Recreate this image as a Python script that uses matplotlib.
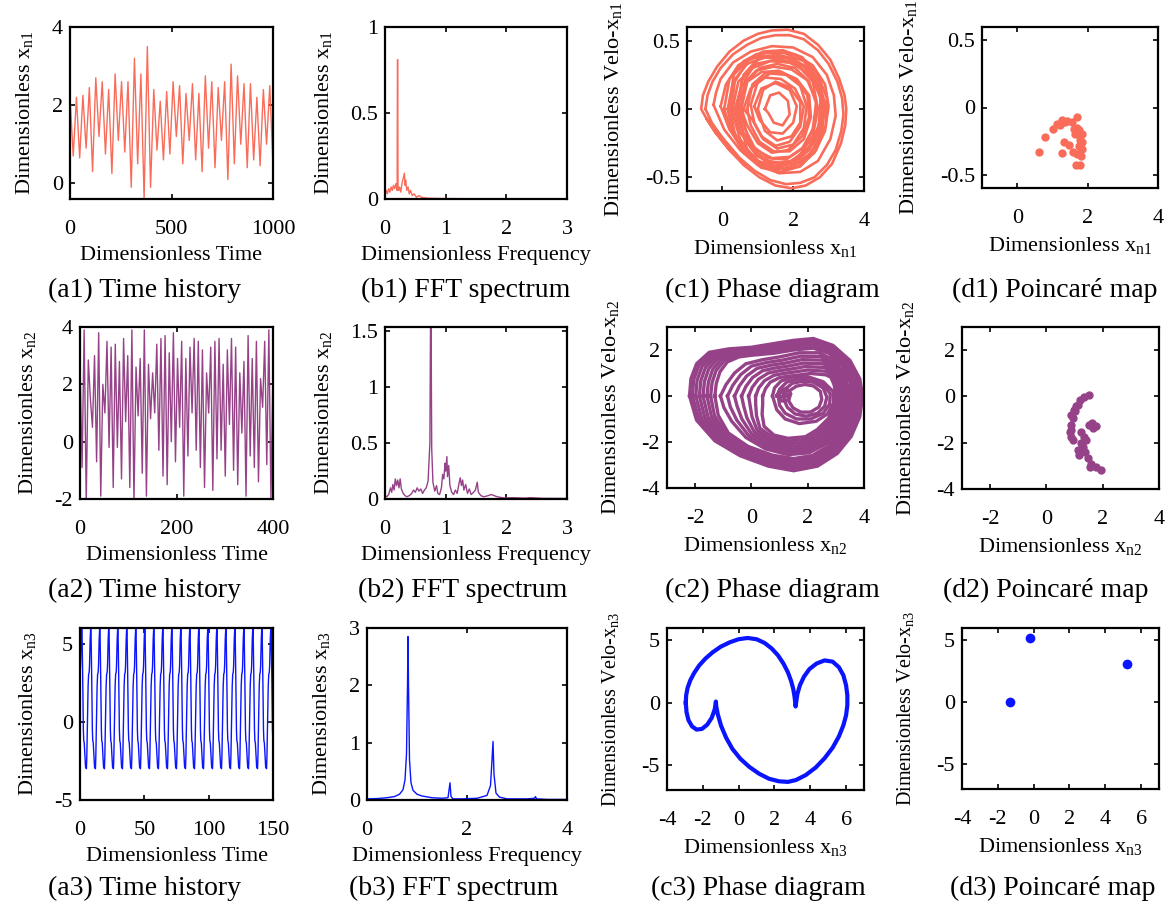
import numpy as np
import matplotlib
matplotlib.use("Agg")
import matplotlib.pyplot as plt
from matplotlib.ticker import FormatStrFormatter

plt.rcParams['font.family'] = 'Liberation Serif'
plt.rcParams['mathtext.fontset'] = 'custom'
plt.rcParams['mathtext.rm'] = 'Liberation Serif'
plt.rcParams['mathtext.it'] = 'Liberation Serif:italic'
plt.rcParams['axes.unicode_minus'] = False

RED = '#F96C5A'
PURPLE = '#964288'
BLUE = '#0A14FF'

# ---- row 1 : x_n1 (chaotic) ----
a1_x = [2.2, 0.7, 2.2, 0.65, 2.25, 0.9, 2.45, 0.3, 2.7, 1.2, 2.6, 0.75, 2.4, 0.25, 2.8, 1.1,
        2.6, 0.8, 2.6, -0.1, 3.2, 0.5, 2.8, -0.4, 3.5, -0.1, 2.4, 0.85, 2.1, 0.6, 2.35, 0.75,
        2.6, 1.2, 2.5, 0.5, 2.3, 1.1, 2.55, 0.6, 2.3, 0.3, 2.75, 0.9, 2.6, 0.4, 2.45, 1.1,
        2.6, 0.1, 3.05, 0.5, 2.75, 1.0, 2.55, 0.4, 2.55, 0.6, 2.2, 0.45, 2.4, 1.0, 2.5, 0.45]

b1_freq = [0.0, 0.02, 0.04, 0.06, 0.08, 0.10, 0.12, 0.14, 0.16, 0.18, 0.20, 0.205, 0.21, 0.215,
           0.225, 0.24, 0.26, 0.28, 0.30, 0.32, 0.33, 0.34, 0.36, 0.38, 0.40, 0.42, 0.45, 0.48,
           0.52, 0.56, 0.60, 0.70, 0.90, 1.2, 2.0, 3.0]
b1_amp = [0.02, 0.05, 0.03, 0.06, 0.04, 0.07, 0.05, 0.08, 0.06, 0.09, 0.05, 0.81, 0.81, 0.06,
          0.05, 0.07, 0.04, 0.09, 0.12, 0.15, 0.08, 0.11, 0.05, 0.07, 0.03, 0.05, 0.02, 0.03,
          0.01, 0.02, 0.01, 0.005, 0.003, 0.002, 0.001, 0.001]

c1_loops = [
    [(0.65, -0.41), (0.2, -0.3), (-0.2, -0.17), (-0.45, -0.07), (-0.6, 0.0), (-0.55, 0.1), (-0.4, 0.2),
     (-0.15, 0.31), (0.2, 0.42), (0.6, 0.5), (1.0, 0.55), (1.4, 0.575), (1.85, 0.58), (2.3, 0.55),
     (2.7, 0.47), (3.05, 0.36), (3.3, 0.22), (3.45, 0.1), (3.5, 0.0), (3.47, -0.12), (3.35, -0.25),
     (3.1, -0.4), (2.75, -0.5), (2.35, -0.56), (1.95, -0.58), (1.5, -0.56), (1.05, -0.5), (0.6, -0.41),
     (0.2, -0.3), (-0.2, -0.17), (-0.45, -0.07)],
    [(-0.48, 0.0), (-0.42, 0.1), (-0.28, 0.2), (-0.05, 0.3), (0.3, 0.4), (0.7, 0.47), (1.1, 0.52),
     (1.5, 0.54), (1.9, 0.54), (2.3, 0.51), (2.7, 0.43), (3.0, 0.33), (3.25, 0.2), (3.38, 0.08),
     (3.42, -0.04), (3.36, -0.16), (3.2, -0.3), (2.95, -0.41), (2.6, -0.5), (2.2, -0.54), (1.8, -0.55),
     (1.35, -0.52), (0.9, -0.45), (0.45, -0.35), (0.05, -0.23), (-0.3, -0.1)],
    [(-0.25, 0.03), (-0.18, 0.12), (-0.05, 0.22), (0.3, 0.34), (0.8, 0.42), (1.4, 0.46), (2.0, 0.45),
     (2.55, 0.38), (2.95, 0.25), (3.15, 0.1), (3.2, -0.05), (3.05, -0.22), (2.7, -0.38), (2.2, -0.46),
     (1.6, -0.47), (1.0, -0.41), (0.5, -0.3), (0.05, -0.15)],
    [(-0.05, 0.02), (0.1, 0.18), (0.45, 0.32), (0.95, 0.4), (1.5, 0.42), (2.05, 0.4), (2.55, 0.32),
     (2.9, 0.18), (3.0, 0.02), (2.9, -0.16), (2.6, -0.32), (2.15, -0.42), (1.6, -0.44), (1.05, -0.4),
     (0.6, -0.3), (0.2, -0.15)],
    [(0.05, 0.0), (0.2, 0.22), (0.6, 0.35), (1.15, 0.42), (1.7, 0.43), (2.25, 0.38), (2.7, 0.25),
     (2.95, 0.08), (2.92, -0.12), (2.65, -0.3), (2.2, -0.42), (1.65, -0.46), (1.1, -0.43), (0.6, -0.32),
     (0.25, -0.16)],
    [(0.15, 0.0), (0.3, 0.2), (0.7, 0.33), (1.2, 0.38), (1.75, 0.38), (2.3, 0.32), (2.7, 0.2),
     (2.85, 0.03), (2.75, -0.15), (2.45, -0.3), (2.0, -0.4), (1.5, -0.42), (1.0, -0.38), (0.55, -0.27),
     (0.25, -0.13)],
    [(0.2, 0.02), (0.32, 0.25), (0.75, 0.37), (1.3, 0.39), (1.85, 0.37), (2.35, 0.3), (2.72, 0.15),
     (2.85, -0.05), (2.7, -0.25), (2.3, -0.38), (1.75, -0.44), (1.2, -0.42), (0.7, -0.33), (0.35, -0.18)],
    [(0.25, 0.0), (0.35, 0.2), (0.7, 0.35), (1.2, 0.41), (1.75, 0.41), (2.3, 0.35), (2.7, 0.22),
     (2.9, 0.04), (2.82, -0.16), (2.5, -0.32), (2.0, -0.42), (1.45, -0.44), (0.95, -0.38), (0.5, -0.22)],
    [(0.3, 0.02), (0.45, 0.2), (0.85, 0.3), (1.35, 0.35), (1.9, 0.34), (2.4, 0.27), (2.75, 0.13),
     (2.8, -0.03), (2.65, -0.2), (2.3, -0.33), (1.8, -0.4), (1.3, -0.38), (0.85, -0.3), (0.5, -0.17)],
    [(0.4, 0.02), (0.6, 0.25), (1.05, 0.38), (1.55, 0.37), (2.1, 0.33), (2.55, 0.2), (2.7, 0.0),
     (2.55, -0.2), (2.15, -0.35), (1.6, -0.43), (1.1, -0.4), (0.7, -0.3)],
    [(0.45, 0.0), (0.55, 0.22), (0.95, 0.33), (1.5, 0.36), (2.05, 0.33), (2.5, 0.24), (2.78, 0.08),
     (2.72, -0.12), (2.45, -0.28), (1.95, -0.38), (1.4, -0.4), (0.95, -0.34), (0.6, -0.2)],
    [(0.5, -0.02), (0.65, 0.22), (1.0, 0.36), (1.5, 0.40), (2.0, 0.37), (2.5, 0.28), (2.8, 0.12),
     (2.85, -0.06), (2.6, -0.24), (2.2, -0.36), (1.7, -0.41), (1.2, -0.38), (0.8, -0.28)],
    [(0.35, 0.0), (0.55, 0.17), (0.95, 0.28), (1.45, 0.31), (1.95, 0.29), (2.4, 0.21), (2.65, 0.06),
     (2.6, -0.12), (2.35, -0.27), (1.9, -0.35), (1.4, -0.36), (0.95, -0.3), (0.6, -0.18)],
    [(0.55, 0.02), (0.7, 0.2), (1.05, 0.3), (1.55, 0.33), (2.05, 0.3), (2.45, 0.2), (2.65, 0.04),
     (2.55, -0.15), (2.25, -0.29), (1.8, -0.37), (1.3, -0.36), (0.9, -0.28), (0.65, -0.15)],
    [(0.45, 0.05), (0.7, 0.2), (1.1, 0.27), (1.6, 0.28), (2.05, 0.22), (2.4, 0.1), (2.45, -0.06),
     (2.25, -0.2), (1.85, -0.3), (1.4, -0.32), (1.0, -0.25), (0.7, -0.12)],
    [(0.7, 0.0), (0.85, 0.18), (1.2, 0.26), (1.65, 0.27), (2.1, 0.22), (2.45, 0.1), (2.5, -0.06),
     (2.3, -0.22), (1.9, -0.31), (1.45, -0.31), (1.05, -0.24), (0.8, -0.12)],
    [(0.6, 0.0), (0.8, 0.15), (1.2, 0.23), (1.65, 0.22), (2.05, 0.15), (2.3, 0.02), (2.2, -0.13),
     (1.9, -0.24), (1.5, -0.27), (1.1, -0.2), (0.85, -0.08)],
    [(0.8, 0.03), (1.0, 0.2), (1.35, 0.26), (1.8, 0.25), (2.2, 0.17), (2.38, 0.02), (2.3, -0.14),
     (2.0, -0.26), (1.55, -0.29), (1.15, -0.22), (0.9, -0.1)],
    [(0.9, 0.02), (1.1, 0.15), (1.5, 0.19), (1.9, 0.14), (2.1, 0.02), (2.0, -0.1), (1.7, -0.18),
     (1.35, -0.17), (1.05, -0.08)],
    [(1.0, 0.0), (1.15, 0.14), (1.5, 0.2), (1.9, 0.16), (2.2, 0.05), (2.2, -0.1), (1.95, -0.2),
     (1.55, -0.23), (1.2, -0.16)],
    [(1.2, 0.0), (1.35, 0.1), (1.6, 0.12), (1.85, 0.06), (1.9, -0.04), (1.7, -0.12), (1.45, -0.1),
     (1.3, -0.03)],
]

d1_x = [0.61, 0.80, 1.02, 1.13, 1.27, 1.42, 1.56, 1.70, 1.70, 1.65, 1.84, 1.79, 1.85, 1.75,
        1.84, 1.82, 1.70, 1.58, 1.46, 1.32, 1.27, 1.68, 1.77, 1.37, 1.23, 1.60, 1.75]
d1_v = [-0.33, -0.22, -0.16, -0.12, -0.09, -0.10, -0.11, -0.07, -0.15, -0.20, -0.20, -0.24,
        -0.26, -0.29, -0.31, -0.36, -0.35, -0.33, -0.28, -0.26, -0.34, -0.43, -0.43, -0.11,
        -0.13, -0.16, -0.17]

# ---- row 2 : x_n2 (chaotic) ----
a2_x = [2.7, -0.9, 3.9, -2.1, 2.85, 1.5, 0.5, 3.0, -0.7, 3.8, -1.9, 2.0, 1.0, 3.5, -0.2, 3.3,
        -1.6, 3.4, -0.2, 2.8, -1.3, 3.6, 0.7, 3.0, -1.6, 3.9, -2.1, 2.6, 0.9, 2.9, -1.1, 3.9,
        -1.9, 2.7, 0.8, 2.4, 1.0, 3.4, -0.3, 3.6, -1.2, 3.7, -1.5, 3.1, 0.0, 3.8, -0.7, 2.9,
        0.5, 3.5, -1.9, 2.9, -0.5, 3.3, 1.0, 3.6, -0.3, 3.5, -0.9, 3.2, -1.6, 2.4, 1.0, 3.3,
        -1.7, 3.5, -0.6, 3.6, -0.3, 2.7, -1.2, 3.2, 0.6, 3.6, -1.0, 3.3, -1.5, 2.4, 0.3, 2.8,
        -1.9, 3.7, -0.5, 2.9, -0.9, 3.5, -1.4, 2.2, 1.2, 3.5, -0.8, 3.9, -2.0, 2.6]

b2_freq = [0.00, 0.03, 0.06, 0.09, 0.11, 0.13, 0.15, 0.17, 0.19, 0.21, 0.23, 0.25, 0.27, 0.30,
           0.33, 0.36, 0.40, 0.44, 0.47, 0.50, 0.53, 0.56, 0.59, 0.62, 0.65, 0.68, 0.71, 0.74,
           0.75, 0.76, 0.77, 0.79, 0.82, 0.85, 0.87, 0.90, 0.93, 0.95, 0.97, 0.99, 1.00, 1.02,
           1.03, 1.05, 1.07, 1.10, 1.13, 1.16, 1.19, 1.22, 1.24, 1.26, 1.28, 1.30, 1.33, 1.36,
           1.39, 1.42, 1.46, 1.49, 1.52, 1.54, 1.58, 1.63, 1.70, 1.75, 1.80, 1.85, 1.95, 2.1,
           2.3, 2.4, 2.6, 3.0]
b2_amp = [0.03, 0.02, 0.04, 0.10, 0.06, 0.13, 0.08, 0.18, 0.12, 0.17, 0.10, 0.18, 0.09, 0.05,
          0.03, 0.02, 0.03, 0.05, 0.08, 0.06, 0.10, 0.07, 0.09, 0.05, 0.08, 0.10, 0.16, 0.5,
          1.56, 1.56, 0.45, 0.15, 0.07, 0.12, 0.05, 0.04, 0.10, 0.22, 0.18, 0.32, 0.25, 0.38,
          0.2, 0.30, 0.12, 0.06, 0.04, 0.08, 0.05, 0.14, 0.19, 0.12, 0.17, 0.08, 0.13, 0.05,
          0.09, 0.04, 0.06, 0.08, 0.15, 0.06, 0.03, 0.02, 0.03, 0.04, 0.03, 0.02, 0.01, 0.012,
          0.008, 0.012, 0.006, 0.005]

c2_loops = [
    # outer family (rounded left side)
    [(-2.2, 0.0), (-2.15, 0.75), (-1.95, 1.4), (-1.5, 1.9), (-0.8, 2.05), (0.0, 2.12), (0.8, 2.28),
     (1.5, 2.42), (2.2, 2.5), (2.9, 2.2), (3.5, 1.55), (3.85, 0.75), (3.95, 0.0), (3.85, -0.9),
     (3.55, -1.75), (3.05, -2.5), (2.35, -3.05), (1.5, -3.25), (0.6, -3.05), (-0.4, -2.6),
     (-1.3, -1.95), (-1.95, -1.05)],
    [(-2.1, 0.0), (-2.05, 0.72), (-1.86, 1.35), (-1.43, 1.84), (-0.76, 2.0), (0.0, 2.07), (0.8, 2.22),
     (1.5, 2.36), (2.2, 2.44), (2.88, 2.15), (3.46, 1.52), (3.8, 0.74), (3.9, 0.0), (3.8, -0.88),
     (3.5, -1.72), (3.01, -2.45), (2.33, -2.99), (1.5, -3.18), (0.62, -2.99), (-0.36, -2.55),
     (-1.24, -1.91), (-1.86, -1.02)],
    [(-1.98, 0.0), (-1.93, 0.69), (-1.75, 1.3), (-1.35, 1.78), (-0.72, 1.95), (0.0, 2.02), (0.8, 2.16),
     (1.5, 2.3), (2.2, 2.38), (2.86, 2.1), (3.42, 1.49), (3.75, 0.72), (3.84, 0.0), (3.75, -0.86),
     (3.45, -1.69), (2.97, -2.4), (2.31, -2.93), (1.5, -3.1), (0.64, -2.92), (-0.32, -2.49),
     (-1.17, -1.86), (-1.76, -0.99)],
    [(-1.85, 0.0), (-1.8, 0.66), (-1.63, 1.25), (-1.26, 1.72), (-0.67, 1.9), (0.0, 1.97), (0.8, 2.1),
     (1.5, 2.24), (2.2, 2.32), (2.84, 2.05), (3.38, 1.46), (3.7, 0.7), (3.78, 0.0), (3.7, -0.84),
     (3.4, -1.65), (2.93, -2.35), (2.28, -2.87), (1.5, -3.02), (0.66, -2.85), (-0.28, -2.43),
     (-1.1, -1.81), (-1.65, -0.96)],
    [(-1.72, 0.0), (-1.67, 0.63), (-1.51, 1.2), (-1.17, 1.66), (-0.62, 1.85), (0.0, 1.92), (0.8, 2.04),
     (1.5, 2.18), (2.2, 2.26), (2.82, 2.0), (3.34, 1.42), (3.65, 0.68), (3.72, 0.0), (3.64, -0.82),
     (3.35, -1.61), (2.89, -2.3), (2.25, -2.8), (1.5, -2.95), (0.68, -2.78), (-0.24, -2.37),
     (-1.03, -1.76), (-1.54, -0.93)],
    [(-1.58, 0.0), (-1.53, 0.6), (-1.38, 1.15), (-1.07, 1.6), (-0.56, 1.8), (0.0, 1.87), (0.8, 1.98),
     (1.5, 2.12), (2.2, 2.2), (2.8, 1.95), (3.3, 1.39), (3.6, 0.66), (3.66, 0.0), (3.58, -0.8),
     (3.3, -1.57), (2.85, -2.25), (2.22, -2.73), (1.5, -2.87), (0.7, -2.71), (-0.2, -2.31),
     (-0.96, -1.71), (-1.42, -0.9)],
    [(-1.45, 0.0), (-1.4, 0.57), (-1.26, 1.1), (-0.97, 1.54), (-0.5, 1.75), (0.0, 1.82), (0.8, 1.92),
     (1.5, 2.06), (2.2, 2.14), (2.78, 1.9), (3.26, 1.36), (3.55, 0.64), (3.6, 0.0), (3.52, -0.78),
     (3.25, -1.53), (2.81, -2.2), (2.19, -2.66), (1.5, -2.8), (0.72, -2.64), (-0.16, -2.25),
     (-0.89, -1.66), (-1.31, -0.87)],
    [(-1.3, 0.0), (-1.25, 0.54), (-1.12, 1.05), (-0.86, 1.48), (-0.44, 1.7), (0.0, 1.77), (0.8, 1.86),
     (1.5, 2.0), (2.2, 2.08), (2.76, 1.85), (3.22, 1.33), (3.5, 0.62), (3.55, 0.0), (3.46, -0.76),
     (3.2, -1.49), (2.77, -2.15), (2.16, -2.59), (1.5, -2.72), (0.74, -2.57), (-0.12, -2.19),
     (-0.82, -1.61), (-1.18, -0.84)],
    # middle family (pointed left tips)
    [(-1.1, 0.0), (-0.9, 0.5), (-0.6, 1.0), (-0.2, 1.4), (0.4, 1.58), (1.0, 1.7), (1.7, 1.88),
     (2.4, 1.88), (2.95, 1.55), (3.3, 0.95), (3.48, 0.2), (3.42, -0.6), (3.15, -1.4), (2.7, -2.05),
     (2.05, -2.47), (1.3, -2.55), (0.5, -2.3), (-0.2, -1.8), (-0.7, -1.1), (-0.98, -0.5)],
    [(-0.85, 0.0), (-0.66, 0.47), (-0.38, 0.93), (0.0, 1.3), (0.55, 1.46), (1.1, 1.56), (1.75, 1.73),
     (2.45, 1.72), (2.92, 1.42), (3.24, 0.87), (3.4, 0.16), (3.34, -0.58), (3.08, -1.33), (2.64, -1.95),
     (2.02, -2.36), (1.3, -2.43), (0.55, -2.2), (-0.1, -1.72), (-0.52, -1.05), (-0.75, -0.47)],
    [(-0.6, 0.0), (-0.43, 0.44), (-0.17, 0.87), (0.2, 1.2), (0.7, 1.34), (1.2, 1.43), (1.8, 1.58),
     (2.5, 1.56), (2.9, 1.3), (3.18, 0.8), (3.32, 0.13), (3.26, -0.56), (3.01, -1.26), (2.58, -1.86),
     (2.0, -2.25), (1.3, -2.32), (0.6, -2.1), (0.0, -1.64), (-0.34, -1.0), (-0.51, -0.44)],
    [(-0.35, 0.0), (-0.2, 0.41), (0.04, 0.8), (0.4, 1.1), (0.85, 1.22), (1.3, 1.3), (1.85, 1.43),
     (2.55, 1.4), (2.88, 1.18), (3.12, 0.72), (3.24, 0.1), (3.18, -0.53), (2.94, -1.19), (2.52, -1.76),
     (1.98, -2.13), (1.3, -2.2), (0.65, -2.0), (0.1, -1.56), (-0.16, -0.95), (-0.28, -0.41)],
    [(-0.1, 0.0), (0.03, 0.38), (0.25, 0.73), (0.6, 1.0), (1.0, 1.1), (1.4, 1.17), (1.9, 1.28),
     (2.6, 1.24), (2.86, 1.06), (3.06, 0.64), (3.16, 0.07), (3.1, -0.51), (2.87, -1.12), (2.46, -1.66),
     (1.96, -2.01), (1.3, -2.08), (0.7, -1.9), (0.2, -1.48), (0.02, -0.9), (-0.05, -0.38)],
    [(0.15, 0.0), (0.26, 0.35), (0.46, 0.66), (0.8, 0.9), (1.15, 0.98), (1.5, 1.04), (2.0, 1.13),
     (2.62, 1.08), (2.84, 0.94), (3.0, 0.56), (3.08, 0.04), (3.02, -0.48), (2.8, -1.05), (2.4, -1.56),
     (1.94, -1.89), (1.3, -1.96), (0.75, -1.8), (0.3, -1.4), (0.18, -0.85), (0.15, -0.35)],
    [(0.4, 0.0), (0.5, 0.32), (0.67, 0.6), (1.0, 0.8), (1.3, 0.86), (1.6, 0.9), (2.1, 0.98),
     (2.64, 0.92), (2.82, 0.82), (2.94, 0.48), (3.0, 0.0), (2.94, -0.46), (2.73, -0.98), (2.34, -1.46),
     (1.92, -1.77), (1.3, -1.84), (0.8, -1.7), (0.45, -1.32), (0.38, -0.8), (0.4, -0.35)],
    # inner family around the centre
    [(0.75, 0.0), (0.82, 0.35), (1.05, 0.65), (1.45, 0.82), (2.0, 0.84), (2.55, 0.62), (2.9, 0.2),
     (2.92, -0.3), (2.7, -0.78), (2.3, -1.1), (1.7, -1.2), (1.2, -1.0), (0.9, -0.6)],
    [(0.95, 0.0), (1.02, 0.32), (1.25, 0.6), (1.6, 0.73), (2.1, 0.73), (2.55, 0.5), (2.8, 0.1),
     (2.78, -0.35), (2.55, -0.75), (2.1, -1.0), (1.6, -1.0), (1.2, -0.75), (1.0, -0.4)],
    [(1.15, 0.05), (1.22, 0.32), (1.45, 0.55), (1.8, 0.64), (2.2, 0.6), (2.55, 0.35), (2.68, -0.05),
     (2.6, -0.45), (2.35, -0.75), (1.95, -0.88), (1.55, -0.78), (1.28, -0.5), (1.17, -0.2)],
    [(1.3, 0.0), (1.38, 0.25), (1.6, 0.43), (1.9, 0.5), (2.2, 0.44), (2.45, 0.2), (2.5, -0.15),
     (2.4, -0.48), (2.1, -0.7), (1.75, -0.7), (1.48, -0.52), (1.34, -0.25)],
    [(0.9, 0.0), (1.0, 0.28), (1.25, 0.32), (1.4, 0.1), (1.32, -0.18), (1.08, -0.22), (0.95, -0.05),
     (1.05, 0.18), (1.22, 0.15), (1.2, -0.05)],
]

d2_x = [1.52, 1.35, 1.20, 1.11, 1.02, 0.93, 0.87, 0.85, 0.87, 0.93, 1.23, 1.32, 1.23, 1.11,
        1.17, 1.37, 1.46, 1.58, 1.76, 1.94, 1.56, 1.62, 1.76, 1.64, 1.52, 1.40, 1.29, 0.99,
        1.05, 0.87, 0.89]
d2_v = [0.07, -0.03, -0.14, -0.36, -0.65, -0.94, -1.23, -1.52, -1.74, -1.88, -1.52, -1.74,
        -2.03, -2.32, -2.54, -2.39, -2.68, -2.90, -3.04, -3.19, -3.04, -1.13, -1.28, -1.38,
        -1.23, -1.88, -2.17, -0.58, -0.43, -0.80, -1.45]

# ---- row 3 : x_n3 (period-3) ----
a3_period = 7.0
a3_cycles = 22
a3_start = -2.0
a3_cycle_t = [0.0, 0.3, 0.8, 1.3, 1.7, 2.1, 2.4, 2.9, 3.3, 3.6, 4.1, 4.6, 4.9, 5.3, 5.7, 6.3]
a3_cycle_x = [-3.0, -2.2, 0.0, 2.3, 3.05, 3.15, 3.6, 5.3, 6.0, 5.6, 2.8, -0.5, -1.2, -1.35, -2.0, -2.9]

b3_freq = [0.0, 0.2, 0.4, 0.55, 0.65, 0.72, 0.76, 0.79, 0.81, 0.82, 0.83, 0.85, 0.88, 0.92, 1.0,
           1.1, 1.3, 1.5, 1.62, 1.66, 1.68, 1.72, 1.9, 2.2, 2.4, 2.47, 2.5, 2.52, 2.54, 2.58,
           2.65, 2.8, 3.2, 3.35, 3.37, 3.39, 3.6, 4.0]
b3_amp = [0.02, 0.025, 0.04, 0.06, 0.10, 0.18, 0.35, 0.8, 2.0, 2.85, 2.0, 0.7, 0.3, 0.17, 0.10,
          0.07, 0.04, 0.03, 0.04, 0.3, 0.06, 0.02, 0.02, 0.03, 0.08, 0.25, 0.7, 1.02, 0.45, 0.12,
          0.05, 0.02, 0.02, 0.03, 0.06, 0.02, 0.01, 0.01]

c3_x = [-2.95, -2.93, -2.85, -2.7, -2.48, -2.2, -1.85, -1.45, -1.0, -0.5, 0.0, 0.5, 1.0, 1.45, 1.85,
        2.2, 2.5, 2.75, 2.93, 3.05, 3.12, 3.16, 3.18, 3.22, 3.28, 3.42, 3.65, 3.95, 4.35, 4.8, 5.25,
        5.6, 5.85, 6.0, 6.07, 6.07, 6.0, 5.85, 5.6, 5.25, 4.8, 4.3, 3.75, 3.2, 2.75, 2.25, 1.7, 1.15,
        0.6, 0.1, -0.35, -0.7, -0.98, -1.16, -1.25, -1.27, -1.33, -1.5, -1.75, -2.05, -2.35, -2.6,
        -2.8, -2.91, -2.95]
c3_v = [0.0, 0.6, 1.2, 1.8, 2.4, 3.0, 3.55, 4.05, 4.5, 4.85, 5.1, 5.2, 5.1, 4.8, 4.35,
        3.8, 3.15, 2.45, 1.75, 1.1, 0.5, 0.0, -0.3, 0.1, 0.7, 1.4, 2.1, 2.7, 3.15, 3.4, 3.3,
        2.85, 2.2, 1.4, 0.6, -0.2, -1.0, -1.8, -2.7, -3.6, -4.45, -5.2, -5.8, -6.2, -6.35, -6.3, -6.1, -5.7,
        -5.15, -4.5, -3.7, -2.8, -1.85, -0.95, -0.3, 0.1, -0.5, -1.2, -1.75, -2.1, -2.15, -1.9,
        -1.4, -0.75, 0.0]

d3_x = [-1.3, -0.2, 5.2]
d3_v = [0.05, 5.2, 3.1]

FIG_W, FIG_H = 1175, 906
fig = plt.figure(figsize=(FIG_W / 100, FIG_H / 100), dpi=100)


def make_axes(left, right, top, bottom):
    return fig.add_axes([left / FIG_W, 1 - bottom / FIG_H, (right - left) / FIG_W, (bottom - top) / FIG_H])


def style(ax, xlim, ylim, xticks, yticks, xlabel, ylabel, ylsize=16, ylpad=12):
    ax.set_xlim(*xlim)
    ax.set_ylim(*ylim)
    ax.set_xticks(xticks)
    ax.set_yticks(yticks)
    ax.xaxis.set_major_formatter(FormatStrFormatter('%g'))
    ax.yaxis.set_major_formatter(FormatStrFormatter('%g'))
    ax.tick_params(direction='in', top=True, right=True, length=3.5, width=1.2, labelsize=16)
    ax.tick_params(axis='x', pad=15)
    ax.tick_params(axis='y', pad=5)
    for s in ax.spines.values():
        s.set_linewidth(1.6)
    ax.set_xlabel(xlabel, fontsize=16, labelpad=5)
    ax.set_ylabel(ylabel, fontsize=ylsize, labelpad=ylpad)


def plot_loops(ax, loops, color, lw):
    for loop in loops:
        pts = np.array(loop + [loop[0]])
        ax.plot(pts[:, 0], pts[:, 1], color=color, lw=lw, solid_joinstyle='round')


def caption(x, y, text):
    fig.text(x / FIG_W, 1 - y / FIG_H, text, fontsize=20, ha='center', va='center')


time_lab = 'Dimensionless Time'
freq_lab = 'Dimensionless Frequency'

# row 1
ax = make_axes(70, 273, 27, 199)
ax.plot(np.linspace(0, 1000, len(a1_x)), a1_x, color=RED, lw=1.0)
style(ax, (0, 1000), (-0.4, 4), [0, 500, 1000], [0, 2, 4], time_lab, r'Dimensionless x$_{\rm n1}$')

ax = make_axes(385, 567, 27, 199)
ax.plot(b1_freq, b1_amp, color=RED, lw=1.0)
style(ax, (0, 3), (0, 1), [0, 1, 2, 3], [0, 0.5, 1], freq_lab, r'Dimensionless x$_{\rm n1}$')

ax = make_axes(687, 864, 27, 191)
plot_loops(ax, c1_loops, RED, 1.9)
style(ax, (-1, 4), (-0.6, 0.6), [0, 2, 4], [-0.5, 0, 0.5],
      r'Dimensionless x$_{\rm n1}$', r'Dimensionless Velo-x$_{\rm n1}$', ylpad=15)

ax = make_axes(982, 1158, 27, 188)
ax.plot(d1_x, d1_v, 'o', color=RED, ms=6, mec='none')
style(ax, (-1, 4), (-0.6, 0.6), [0, 2, 4], [-0.5, 0, 0.5],
      r'Dimensionless x$_{\rm n1}$', r'Dimensionless Velo-x$_{\rm n1}$', ylpad=15)

# row 2
ax = make_axes(80, 273, 327, 499)
ax.plot(np.linspace(0, 400, len(a2_x)), a2_x, color=PURPLE, lw=1.0)
style(ax, (0, 400), (-2, 4), [0, 200, 400], [-2, 0, 2, 4], time_lab, r'Dimensionless x$_{\rm n2}$')

ax = make_axes(385, 567, 327, 499)
ax.plot(b2_freq, b2_amp, color=PURPLE, lw=1.0)
style(ax, (0, 3), (0, 1.54), [0, 1, 2, 3], [0, 0.5, 1, 1.5], freq_lab, r'Dimensionless x$_{\rm n2}$')

ax = make_axes(667, 864, 327, 488)
plot_loops(ax, c2_loops, PURPLE, 2.4)
style(ax, (-3, 4), (-4, 3), [-2, 0, 2, 4], [-4, -2, 0, 2],
      r'Dimensionless x$_{\rm n2}$', r'Dimensionless Velo-x$_{\rm n2}$', ylpad=15)

ax = make_axes(962, 1159, 327, 489)
ax.plot(d2_x, d2_v, 'o', color=PURPLE, ms=6, mec='none')
style(ax, (-3, 4), (-4, 3), [-2, 0, 2, 4], [-4, -2, 0, 2],
      r'Dimensionless x$_{\rm n2}$', r'Dimensionless Velo-x$_{\rm n2}$', ylpad=15)

# row 3
a3_t = np.concatenate([np.array(a3_cycle_t) + a3_start + k * a3_period for k in range(a3_cycles)])
a3_x = np.tile(a3_cycle_x, a3_cycles)
ax = make_axes(80, 273, 628, 800)
ax.plot(a3_t, a3_x, color=BLUE, lw=1.0)
style(ax, (0, 150), (-5, 6), [0, 50, 100, 150], [-5, 0, 5], time_lab, r'Dimensionless x$_{\rm n3}$')

ax = make_axes(367, 567, 628, 800)
ax.plot(b3_freq, b3_amp, color=BLUE, lw=1.0)
style(ax, (0, 4), (0, 3), [0, 2, 4], [0, 1, 2, 3], freq_lab, r'Dimensionless x$_{\rm n3}$')

ax = make_axes(667, 864, 628, 790)
ax.plot(c3_x, c3_v, color=BLUE, lw=3, solid_joinstyle='round')
style(ax, (-4, 7), (-7, 6), [-4, -2, 0, 2, 4, 6], [-5, 0, 5],
      r'Dimensionless x$_{\rm n3}$', r'Dimensionless Velo-x$_{\rm n3}$', ylsize=14.5, ylpad=15)

ax = make_axes(962, 1159, 628, 789)
ax.plot(d3_x, d3_v, 'o', color=BLUE, ms=7, mec='none')
style(ax, (-4, 7), (-7, 6), [-4, -2, 0, 2, 4, 6], [-5, 0, 5],
      r'Dimensionless x$_{\rm n3}$', r'Dimensionless Velo-x$_{\rm n3}$', ylsize=14.5, ylpad=15)

# captions under each panel
captions = [
    (145, 290, '(a1) Time history'), (466, 290, '(b1) FFT spectrum'),
    (772, 290, '(c1) Phase diagram'), (1055, 290, '(d1) Poincaré map'),
    (145, 590, '(a2) Time history'), (463, 590, '(b2) FFT spectrum'),
    (772, 590, '(c2) Phase diagram'), (1046, 590, '(d2) Poincaré map'),
    (145, 888, '(a3) Time history'), (454, 888, '(b3) FFT spectrum'),
    (758, 888, '(c3) Phase diagram'), (1053, 888, '(d3) Poincaré map'),
]
for cx, cy, txt in captions:
    caption(cx, cy, txt)

fig.savefig('out.png', dpi=100)
